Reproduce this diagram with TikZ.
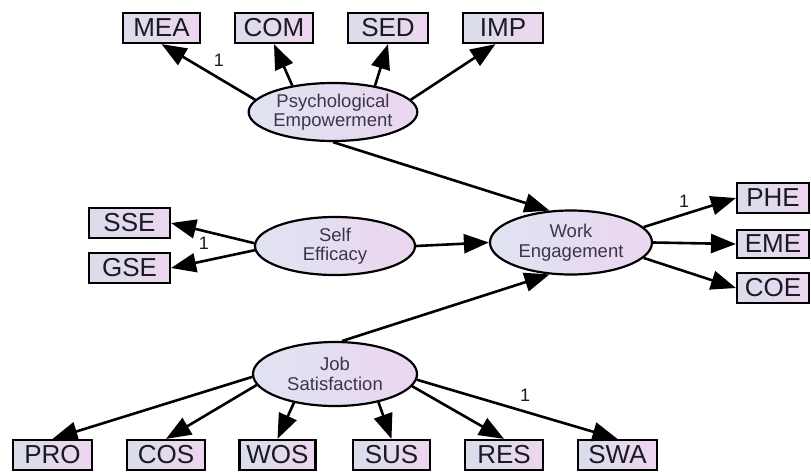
\documentclass[tikz,border=0pt]{standalone}
\usepackage{fontspec}
\setmainfont{Liberation Sans}
\usetikzlibrary{shapes.geometric,arrows.meta}
\definecolor{boxL}{HTML}{DADDEB}
\definecolor{boxR}{HTML}{EDD6EF}
\definecolor{ellL}{HTML}{E0E3F1}
\definecolor{ellR}{HTML}{EBD6F0}
\definecolor{txt}{HTML}{1A1A26}
\definecolor{etxt}{HTML}{383848}
\tikzset{
  ind/.style={draw=black, line width=2.2pt, rectangle, minimum width=78pt, minimum height=30pt,
    inner sep=0pt, left color=boxL, right color=boxR, font=\fontsize{26}{28}\selectfont, text=txt},
  lat/.style={draw=black, line width=2.2pt, ellipse, inner sep=0pt, left color=ellL, right color=ellR,
    align=center, font=\fontsize{18.5}{19.5}\selectfont, text=etxt},
  arr/.style={-{Triangle[length=25pt,width=19pt]}, line width=2.6pt},
  one/.style={font=\fontsize{18}{18}\selectfont, text=txt, inner sep=0pt}
}
\begin{document}
\begin{tikzpicture}[x=1pt,y=-1pt]
\useasboundingbox (0,0) rectangle (811,472);
% latent variables
\node[lat, minimum width=164pt, minimum height=58pt] (pe) at (333,112) {Psychological\\Empowerment};
\node[lat, minimum width=160pt, minimum height=58pt] (se) at (335,246) {Self\\Efficacy};
\node[lat, minimum width=162pt, minimum height=64pt] (we) at (571,242.5) {Work\\Engagement};
\node[lat, minimum width=164pt, minimum height=64pt] (js) at (335,374) {Job\\Satisfaction};
% indicators top
\node[ind, minimum width=77pt] (mea) at (161.5,28) {MEA};
\node[ind] (com) at (274,28) {COM};
\node[ind, minimum width=80pt] (sed) at (388,28) {SED};
\node[ind, minimum width=80pt] (imp) at (503,28) {IMP};
% indicators left
\node[ind, minimum width=81pt] (sse) at (129.5,223) {SSE};
\node[ind, minimum width=81pt] (gse) at (129.5,268) {GSE};
% indicators right
\node[ind, minimum width=72pt] (phe) at (773,198) {PHE};
\node[ind, minimum width=72pt, minimum height=28pt] (eme) at (773,244) {EME};
\node[ind, minimum width=72pt] (coe) at (773,288) {COE};
% indicators bottom
\node[ind, minimum width=79pt] (pro) at (52.5,455) {PRO};
\node[ind] (cos) at (166,455) {COS};
\node[ind, minimum width=76pt] (wos) at (277.5,455) {WOS};
\node[ind, minimum width=77pt] (sus) at (391.5,455) {SUS};
\node[ind] (res) at (504,455) {RES};
\node[ind, minimum width=79pt] (swa) at (617.5,455) {SWA};
% structural paths
\draw[arr] (pe.south) -- (we.124);
\draw[arr] (se.east) -- (we.west);
\draw[arr] (js.78) -- (we.236);
% measurement paths
\draw[arr] (pe.171) -- (mea.south);
\draw[arr] (pe.147) -- (com.south);
\draw[arr] (pe.32) -- (sed.south);
\draw[arr] (pe.9) -- (imp.245);
\draw[arr] (se.178) -- (sse.east);
\draw[arr] (se.183) -- (gse.east);
\draw[arr] (we.12) -- (phe.west);
\draw[arr] (we.0) -- (eme.west);
\draw[arr] (we.-12) -- (coe.west);
\draw[arr] (js.182) -- (pro.north);
\draw[arr] (js.188) -- (cos.north);
\draw[arr] (js.215) -- (wos.north);
\draw[arr] (js.327) -- (sus.north);
\draw[arr] (js.351) -- (res.north);
\draw[arr] (js.356) -- (swa.north);
% labels
\node[one] (l1) at (219,60) {1};
\node[one] (l2) at (204,243) {1};
\node[one] (l3) at (684,201) {1};
\node[one] (l4) at (525,395) {1};
\end{tikzpicture}
\end{document}
